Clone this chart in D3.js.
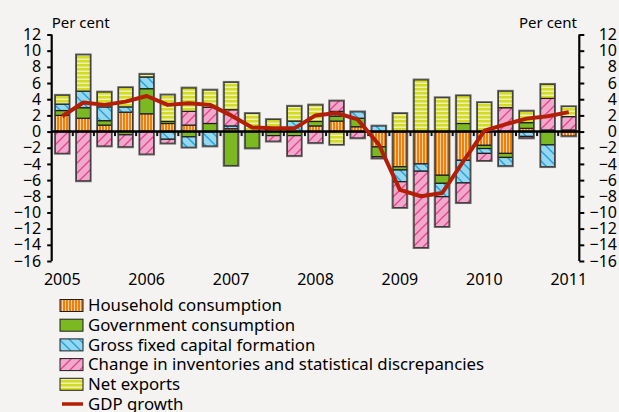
<!DOCTYPE html>
<html>
<head>
<meta charset="utf-8">
<script src="https://cdn.jsdelivr.net/npm/d3@7"></script>
<style>
  html, body { margin: 0; padding: 0; background: #f4f3f1; }
  svg { display: block; }
  text { font-family: "Noto Sans", sans-serif; fill: #000; }
</style>
</head>
<body>
<div id="chart"></div>
<script>
// quarters 2005Q1 .. 2011Q1
const quarters = [
  '2005Q1','2005Q2','2005Q3','2005Q4',
  '2006Q1','2006Q2','2006Q3','2006Q4',
  '2007Q1','2007Q2','2007Q3','2007Q4',
  '2008Q1','2008Q2','2008Q3','2008Q4',
  '2009Q1','2009Q2','2009Q3','2009Q4',
  '2010Q1','2010Q2','2010Q3','2010Q4',
  '2011Q1'
];
const yearLabels = ['2005','2006','2007','2008','2009','2010','2011'];
const yTicks = [12,10,8,6,4,2,0,-2,-4,-6,-8,-10,-12,-14,-16];

const household   = [2.0, 1.65, 0.8, 2.4, 2.2, 1.0, 0.8, 0, 0.35, 0, 0, 0, 0.7, 1.3, 0.6, -1.9, -4.35, -4.0, -5.4, -3.55, -1.7, -2.7, 0.4, 0.2, -0.55];
const government  = [0.6, 1.3, 0.55, -0.4, 3.1, 0.25, -0.65, 1.0, -4.2, -2.05, -0.5, -0.5, 0.55, 0.6, 1.05, -1.2, -0.4, 0, -1.0, 1.0, -0.4, -0.5, 0.7, -1.65, 0.2];
const gfcf        = [0.8, 2.05, 1.7, 0.65, 1.45, -0.95, -1.3, -1.8, 0.35, 0, 0, 1.3, 0, 0.6, 0.8, 0.7, -1.45, -0.9, -1.65, -2.8, -0.6, -1.05, -0.6, -2.7, 0];
const inventories = [-2.7, -6.1, -1.8, -1.5, -2.8, -0.5, 1.7, 2.0, 2.0, 0, -0.7, -2.5, -1.4, 1.3, -0.8, -0.2, -3.2, -9.45, -3.7, -2.45, -0.9, 2.95, -0.2, 3.9, 1.65];
const netExports  = [1.1, 4.5, 1.85, 2.4, 0.35, 3.3, 2.9, 2.15, 3.4, 2.25, 1.5, 1.85, 2.05, -1.6, 0, 0, 2.25, 6.4, 4.2, 3.45, 3.6, 2.05, 1.45, 1.75, 1.25];
const gdpGrowth   = [1.9, 3.6, 3.3, 3.7, 4.4, 3.3, 3.5, 3.3, 2.0, 0.5, 0.4, 0.4, 2.0, 2.3, 1.5, -1.6, -7.2, -8.0, -7.6, -3.7, 0.1, 0.9, 1.6, 1.9, 2.4];

const seriesKeys = ['household','government','gfcf','inventories','netExports'];
const seriesNames = [
  'Household consumption',
  'Government consumption',
  'Gross fixed capital formation',
  'Change in inventories and statistical discrepancies',
  'Net exports'
];

const width = 619, height = 412;
const margin = { top: 34.5, left: 51.7, right: 619 - 579.3, bottom: 412 - 261 };

const rows = quarters.map((q, i) => ({
  q: q,
  household: household[i],
  government: government[i],
  gfcf: gfcf[i],
  inventories: inventories[i],
  netExports: netExports[i]
}));

const svg = d3.select('#chart').append('svg')
  .attr('width', width)
  .attr('height', height);

svg.append('rect').attr('width', width).attr('height', height).attr('fill', '#f4f3f1');

// fill patterns
const defs = svg.append('defs');

let p = defs.append('pattern').attr('id', 'pat-household')
  .attr('patternUnits', 'userSpaceOnUse').attr('width', 3).attr('height', 3);
p.append('rect').attr('width', 3).attr('height', 3).attr('fill', '#f07f0c');
p.append('rect').attr('x', 2).attr('width', 1).attr('height', 3).attr('fill', '#fbd2a6');

p = defs.append('pattern').attr('id', 'pat-government')
  .attr('patternUnits', 'userSpaceOnUse').attr('width', 4).attr('height', 4);
p.append('rect').attr('width', 4).attr('height', 4).attr('fill', '#7cb822');

p = defs.append('pattern').attr('id', 'pat-gfcf')
  .attr('patternUnits', 'userSpaceOnUse').attr('width', 10).attr('height', 10);
p.append('rect').attr('width', 10).attr('height', 10).attr('fill', '#93d7f1');
p.append('path').attr('d', 'M-1,-1 L11,11 M-6,4 L6,16 M4,-6 L16,6')
  .attr('stroke', '#1d9fd8').attr('stroke-width', 1.3);

p = defs.append('pattern').attr('id', 'pat-inventories')
  .attr('patternUnits', 'userSpaceOnUse').attr('width', 10).attr('height', 10);
p.append('rect').attr('width', 10).attr('height', 10).attr('fill', '#f1a9cb');
p.append('path').attr('d', 'M-1,11 L11,-1 M-6,6 L6,-6 M4,16 L16,4')
  .attr('stroke', '#e8408f').attr('stroke-width', 1.3);

p = defs.append('pattern').attr('id', 'pat-netExports')
  .attr('patternUnits', 'userSpaceOnUse').attr('width', 4).attr('height', 4);
p.append('rect').attr('width', 4).attr('height', 4).attr('fill', '#d3db27');
p.append('rect').attr('y', 2.5).attr('width', 4).attr('height', 1.5).attr('fill', '#eef1b0');

// scales
const x = d3.scaleBand()
  .domain(quarters)
  .range([margin.left, width - margin.right])
  .paddingInner(0.33)
  .paddingOuter(0.165);

const y = d3.scaleLinear()
  .domain([-16, 12])
  .range([height - margin.bottom, margin.top]);

const stack = d3.stack().keys(seriesKeys).offset(d3.stackOffsetDiverging);
const stacked = stack(rows);

// bars
const layers = svg.append('g').selectAll('g')
  .data(stacked)
  .join('g')
  .attr('fill', d => `url(#pat-${d.key})`);

layers.selectAll('rect')
  .data(d => d.filter(v => v[1] - v[0] !== 0))
  .join('rect')
  .attr('x', d => x(d.data.q))
  .attr('width', x.bandwidth())
  .attr('y', d => y(Math.max(d[0], d[1])))
  .attr('height', d => Math.abs(y(d[0]) - y(d[1])))
  .attr('stroke', '#1e1e1e')
  .attr('stroke-width', 1.2);

// outline around bar totals
const posTot = rows.map(r => d3.sum(seriesKeys, k => Math.max(0, r[k])));
const negTot = rows.map(r => d3.sum(seriesKeys, k => Math.min(0, r[k])));
const outline = svg.append('g').attr('fill', 'none').attr('stroke', '#555').attr('stroke-width', 1.6).attr('stroke-opacity', 0.8);
quarters.forEach((q, i) => {
  if (posTot[i] > 0) outline.append('rect').attr('x', x(q) - 0.5).attr('width', x.bandwidth() + 1)
    .attr('y', y(posTot[i]) - 0.5).attr('height', y(0) - y(posTot[i]) + 0.5);
  if (negTot[i] < 0) outline.append('rect').attr('x', x(q) - 0.5).attr('width', x.bandwidth() + 1)
    .attr('y', y(0)).attr('height', y(negTot[i]) - y(0) + 0.5);
});

// zero line with quarter ticks
const step = x.step();
const boundaries = d3.range(1, quarters.length).map(i => margin.left + i * step);
svg.append('g').selectAll('line')
  .data(boundaries)
  .join('line')
  .attr('x1', d => d).attr('x2', d => d)
  .attr('y1', y(0)).attr('y2', y(0) + 4.5)
  .attr('stroke', '#111').attr('stroke-width', 2);

svg.append('line')
  .attr('x1', margin.left).attr('x2', width - margin.right)
  .attr('y1', y(0)).attr('y2', y(0))
  .attr('stroke', '#000').attr('stroke-width', 2.5);

// GDP line
const line = d3.line()
  .x((d, i) => x(quarters[i]) + x.bandwidth() / 2)
  .y(d => y(d));

svg.append('path')
  .datum(gdpGrowth)
  .attr('d', line)
  .attr('fill', 'none')
  .attr('stroke', '#b41e05')
  .attr('stroke-width', 4)
  .attr('stroke-linejoin', 'round')
  .attr('stroke-linecap', 'butt');

// y axes
const leftAxis = d3.axisLeft(y).tickValues(yTicks).tickSize(4.5).tickPadding(6)
  .tickFormat(d => d3.format('d')(d).replace('-', '\u2212'));
const gl = svg.append('g').attr('transform', `translate(${margin.left},0)`).call(leftAxis);

const rightAxis = d3.axisRight(y).tickValues(yTicks).tickSize(5).tickPadding(0)
  .tickFormat(d => d3.format('d')(d).replace('-', '\u2212'));
const gr = svg.append('g').attr('transform', `translate(${width - margin.right},0)`).call(rightAxis);

[gl, gr].forEach(g => {
  g.select('.domain').attr('stroke', '#000').attr('stroke-width', 2.2)
    .attr('d', `M0,${y(12)}V${y(-16)}`);
  g.selectAll('.tick line').attr('stroke', '#000').attr('stroke-width', 2);
  g.selectAll('.tick text').style('font-family', '"Noto Sans", sans-serif').style('font-size', '16px')
    .attr('fill', '#000');
});
gr.selectAll('.tick text').attr('text-anchor', 'end').attr('x', 617 - (width - margin.right));

// x labels on first quarter of each year
svg.append('g').selectAll('text')
  .data(yearLabels)
  .join('text')
  .attr('x', d => x(d + 'Q1') + x.bandwidth() / 2)
  .attr('y', 285)
  .attr('text-anchor', 'middle')
  .style('font-size', '16px')
  .text(d => d);

// unit labels
svg.append('text').attr('x', margin.left).attr('y', 28).style('font-size', '15px').text('Per cent');
svg.append('text').attr('x', 577).attr('y', 28).attr('text-anchor', 'end').style('font-size', '15px').text('Per cent');

// legend
const legend = svg.append('g').attr('transform', 'translate(60,0)');
const legendY = d3.range(6).map(i => 305.5 + i * 19.7);
seriesKeys.forEach((k, i) => {
  legend.append('rect')
    .attr('x', 0).attr('y', legendY[i] - 6).attr('width', 23).attr('height', 12)
    .attr('fill', `url(#pat-${k})`).attr('stroke', '#1e1e1e').attr('stroke-width', 1);
  legend.append('text').attr('x', 28).attr('y', legendY[i]).attr('dy', '0.35em')
    .style('font-size', '16.8px').text(seriesNames[i]);
});
legend.append('line')
  .attr('x1', 2).attr('x2', 23).attr('y1', legendY[5]).attr('y2', legendY[5])
  .attr('stroke', '#b41e05').attr('stroke-width', 3.5);
legend.append('text').attr('x', 28).attr('y', legendY[5]).attr('dy', '0.35em')
  .style('font-size', '16.8px').text('GDP growth');
</script>
</body>
</html>
